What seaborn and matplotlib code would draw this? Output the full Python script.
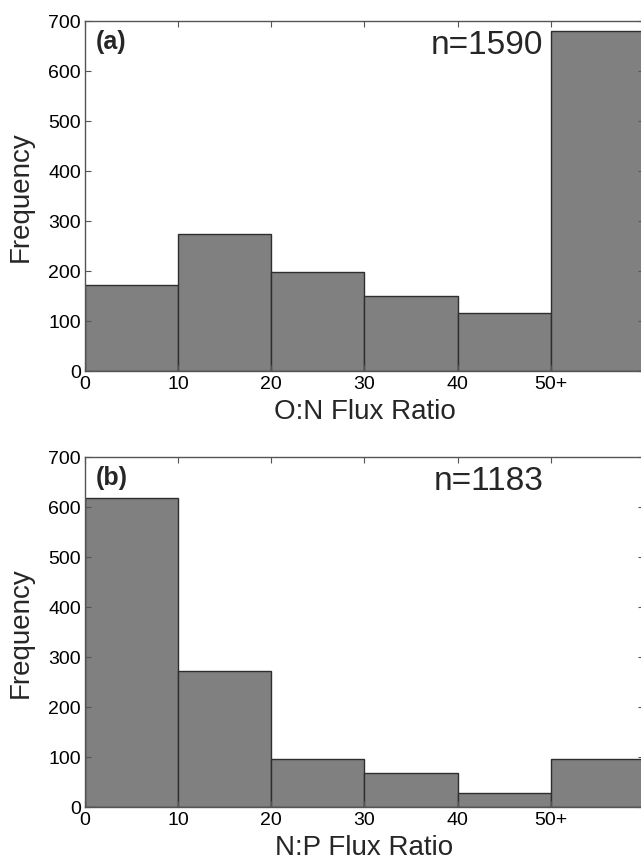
import matplotlib
matplotlib.use("Agg")
import matplotlib.pyplot as plt
import seaborn as sns
import numpy as np

# ---- data ----
bin_edges = [0, 10, 20, 30, 40, 50, 60]
bin_mids = [5, 15, 25, 35, 45, 55]
tick_labels = ["0", "10", "20", "30", "40", "50+"]
on_counts = [172, 274, 199, 150, 117, 680]   # O:N flux ratio, n=1590
np_counts = [619, 273, 97, 69, 28, 96]       # N:P flux ratio, n=1183
panel_labels = ["(a)", "(b)"]
n_labels = ["n=1590", "n=1183"]
x_labels = ["O:N Flux Ratio", "N:P Flux Ratio"]
y_ticks = [0, 100, 200, 300, 400, 500, 600, 700]

sns.set_style("ticks")
plt.rcParams["font.family"] = ["Liberation Sans", "DejaVu Sans"]
plt.rcParams["xtick.direction"] = "in"
plt.rcParams["ytick.direction"] = "in"

W, H = 641, 862
fig = plt.figure(figsize=(W / 100, H / 100), dpi=100)
left = 85 / W
width = 559 / W
height = 350 / H
ax1 = fig.add_axes([left, 1 - 372 / H, width, height])
ax2 = fig.add_axes([left, 1 - 808 / H, width, height])

for ax, counts, plab, nlab, xlab in zip(
    [ax1, ax2], [on_counts, np_counts], panel_labels, n_labels, x_labels
):
    sns.histplot(
        x=bin_mids, weights=counts, bins=bin_edges, ax=ax,
        color="#808080", edgecolor="#2e2e2e", linewidth=1.0, alpha=1.0,
    )
    ax.set_xlim(0, 60)
    ax.set_ylim(0, 700)
    ax.set_xticks(bin_edges[:-1])
    ax.set_xticklabels(tick_labels)
    ax.set_yticks(y_ticks)
    ax.tick_params(axis="both", which="both", direction="in", length=4,
                   width=0.8, color="#555555", labelsize=14, top=True,
                   right=True, pad=3, labelcolor="black")
    for sp in ax.spines.values():
        sp.set_visible(True)
        sp.set_color("#555555")
        sp.set_linewidth(1.0)
    ax.set_xlabel(xlab, fontsize=20, labelpad=4)
    ax.set_ylabel("Frequency", fontsize=20, labelpad=10)
    ax.text(1.2, 646, plab, fontsize=18, fontweight="bold", ha="left",
            va="baseline")
    ax.text(49.2, 636, nlab, fontsize=24, fontweight="normal", ha="right",
            va="baseline")
    ax.set_axisbelow(False)

fig.savefig("out.png", dpi=100)
